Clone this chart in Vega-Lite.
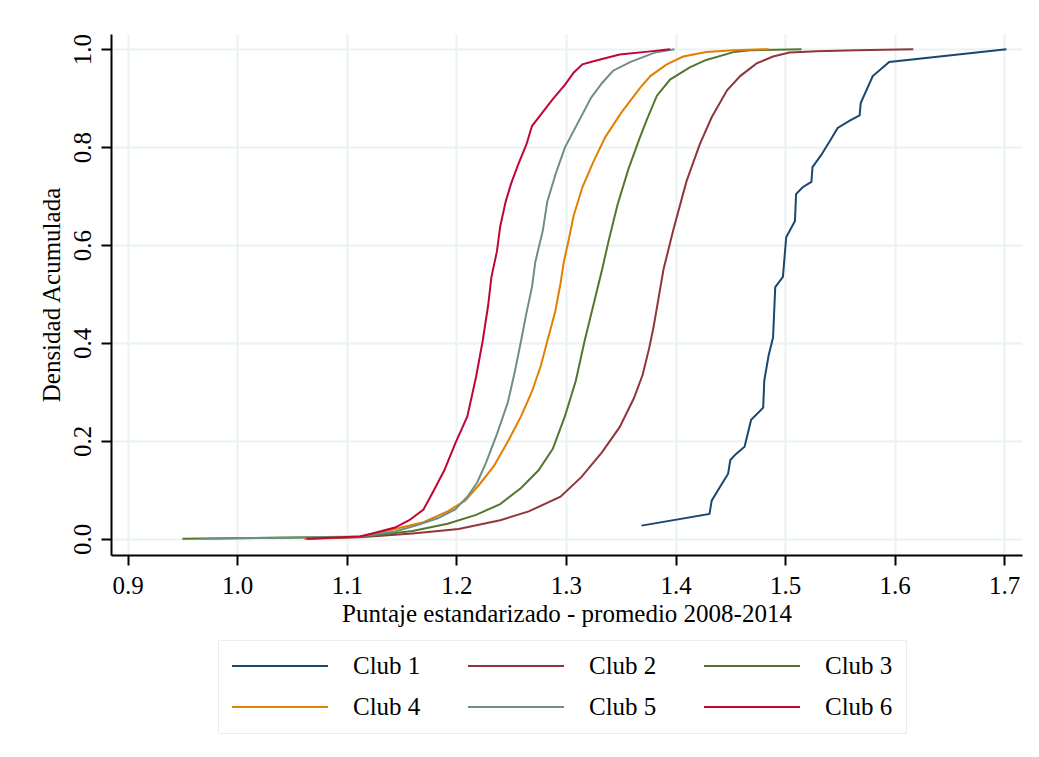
{
  "$schema": "https://vega.github.io/schema/vega-lite/v6.json",
  "width": 911,
  "height": 521,
  "autosize": {"type": "none"},
  "padding": {"left": 111, "top": 34, "right": 17, "bottom": 202},
  "background": "white",
  "data": {"values": [
    {"c":"Club 1","x":1.369,"y":0.027},{"c":"Club 1","x":1.431,"y":0.051},{"c":"Club 1","x":1.433,"y":0.078},{"c":"Club 1","x":1.440,"y":0.104},{"c":"Club 1","x":1.448,"y":0.133},{"c":"Club 1","x":1.450,"y":0.161},{"c":"Club 1","x":1.455,"y":0.173},{"c":"Club 1","x":1.463,"y":0.188},{"c":"Club 1","x":1.469,"y":0.243},{"c":"Club 1","x":1.480,"y":0.268},{"c":"Club 1","x":1.481,"y":0.323},{"c":"Club 1","x":1.485,"y":0.375},{"c":"Club 1","x":1.489,"y":0.411},{"c":"Club 1","x":1.491,"y":0.514},{"c":"Club 1","x":1.498,"y":0.535},{"c":"Club 1","x":1.501,"y":0.616},{"c":"Club 1","x":1.509,"y":0.649},{"c":"Club 1","x":1.510,"y":0.704},{"c":"Club 1","x":1.516,"y":0.718},{"c":"Club 1","x":1.524,"y":0.729},{"c":"Club 1","x":1.525,"y":0.759},{"c":"Club 1","x":1.533,"y":0.784},{"c":"Club 1","x":1.541,"y":0.813},{"c":"Club 1","x":1.548,"y":0.839},{"c":"Club 1","x":1.559,"y":0.854},{"c":"Club 1","x":1.568,"y":0.865},{"c":"Club 1","x":1.569,"y":0.890},{"c":"Club 1","x":1.580,"y":0.945},{"c":"Club 1","x":1.595,"y":0.974},{"c":"Club 1","x":1.702,"y":1.0},
    {"c":"Club 2","x":1.065,"y":0},{"c":"Club 2","x":1.112,"y":0.003},{"c":"Club 2","x":1.160,"y":0.011},{"c":"Club 2","x":1.202,"y":0.020},{"c":"Club 2","x":1.240,"y":0.038},{"c":"Club 2","x":1.266,"y":0.056},{"c":"Club 2","x":1.295,"y":0.086},{"c":"Club 2","x":1.314,"y":0.126},{"c":"Club 2","x":1.333,"y":0.177},{"c":"Club 2","x":1.349,"y":0.228},{"c":"Club 2","x":1.362,"y":0.287},{"c":"Club 2","x":1.370,"y":0.335},{"c":"Club 2","x":1.376,"y":0.390},{"c":"Club 2","x":1.380,"y":0.433},{"c":"Club 2","x":1.389,"y":0.550},{"c":"Club 2","x":1.398,"y":0.631},{"c":"Club 2","x":1.410,"y":0.730},{"c":"Club 2","x":1.422,"y":0.805},{"c":"Club 2","x":1.433,"y":0.861},{"c":"Club 2","x":1.447,"y":0.916},{"c":"Club 2","x":1.459,"y":0.945},{"c":"Club 2","x":1.474,"y":0.971},{"c":"Club 2","x":1.489,"y":0.985},{"c":"Club 2","x":1.504,"y":0.993},{"c":"Club 2","x":1.529,"y":0.996},{"c":"Club 2","x":1.565,"y":0.998},{"c":"Club 2","x":1.617,"y":1.0},
    {"c":"Club 3","x":0.950,"y":0},{"c":"Club 3","x":1.112,"y":0.004},{"c":"Club 3","x":1.160,"y":0.016},{"c":"Club 3","x":1.192,"y":0.031},{"c":"Club 3","x":1.218,"y":0.049},{"c":"Club 3","x":1.240,"y":0.071},{"c":"Club 3","x":1.259,"y":0.104},{"c":"Club 3","x":1.275,"y":0.140},{"c":"Club 3","x":1.288,"y":0.184},{"c":"Club 3","x":1.299,"y":0.250},{"c":"Club 3","x":1.309,"y":0.323},{"c":"Club 3","x":1.317,"y":0.404},{"c":"Club 3","x":1.325,"y":0.477},{"c":"Club 3","x":1.333,"y":0.550},{"c":"Club 3","x":1.339,"y":0.609},{"c":"Club 3","x":1.347,"y":0.682},{"c":"Club 3","x":1.357,"y":0.755},{"c":"Club 3","x":1.367,"y":0.817},{"c":"Club 3","x":1.374,"y":0.857},{"c":"Club 3","x":1.383,"y":0.905},{"c":"Club 3","x":1.395,"y":0.938},{"c":"Club 3","x":1.413,"y":0.963},{"c":"Club 3","x":1.428,"y":0.978},{"c":"Club 3","x":1.453,"y":0.994},{"c":"Club 3","x":1.468,"y":0.998},{"c":"Club 3","x":1.515,"y":1.0},
    {"c":"Club 4","x":1.061,"y":0},{"c":"Club 4","x":1.112,"y":0.005},{"c":"Club 4","x":1.144,"y":0.020},{"c":"Club 4","x":1.170,"y":0.034},{"c":"Club 4","x":1.192,"y":0.056},{"c":"Club 4","x":1.208,"y":0.078},{"c":"Club 4","x":1.221,"y":0.111},{"c":"Club 4","x":1.234,"y":0.148},{"c":"Club 4","x":1.247,"y":0.199},{"c":"Club 4","x":1.259,"y":0.250},{"c":"Club 4","x":1.269,"y":0.301},{"c":"Club 4","x":1.277,"y":0.353},{"c":"Club 4","x":1.283,"y":0.404},{"c":"Club 4","x":1.290,"y":0.462},{"c":"Club 4","x":1.295,"y":0.521},{"c":"Club 4","x":1.298,"y":0.565},{"c":"Club 4","x":1.303,"y":0.616},{"c":"Club 4","x":1.307,"y":0.660},{"c":"Club 4","x":1.315,"y":0.718},{"c":"Club 4","x":1.325,"y":0.770},{"c":"Club 4","x":1.336,"y":0.821},{"c":"Club 4","x":1.351,"y":0.872},{"c":"Club 4","x":1.368,"y":0.922},{"c":"Club 4","x":1.377,"y":0.945},{"c":"Club 4","x":1.392,"y":0.969},{"c":"Club 4","x":1.407,"y":0.985},{"c":"Club 4","x":1.428,"y":0.994},{"c":"Club 4","x":1.453,"y":0.998},{"c":"Club 4","x":1.485,"y":1.0},
    {"c":"Club 5","x":0.967,"y":0},{"c":"Club 5","x":1.112,"y":0.005},{"c":"Club 5","x":1.144,"y":0.015},{"c":"Club 5","x":1.163,"y":0.027},{"c":"Club 5","x":1.183,"y":0.042},{"c":"Club 5","x":1.199,"y":0.060},{"c":"Club 5","x":1.210,"y":0.086},{"c":"Club 5","x":1.219,"y":0.115},{"c":"Club 5","x":1.227,"y":0.155},{"c":"Club 5","x":1.237,"y":0.214},{"c":"Club 5","x":1.247,"y":0.279},{"c":"Club 5","x":1.253,"y":0.338},{"c":"Club 5","x":1.259,"y":0.404},{"c":"Club 5","x":1.264,"y":0.462},{"c":"Club 5","x":1.269,"y":0.514},{"c":"Club 5","x":1.272,"y":0.565},{"c":"Club 5","x":1.279,"y":0.631},{"c":"Club 5","x":1.283,"y":0.689},{"c":"Club 5","x":1.291,"y":0.748},{"c":"Club 5","x":1.299,"y":0.799},{"c":"Club 5","x":1.311,"y":0.850},{"c":"Club 5","x":1.323,"y":0.901},{"c":"Club 5","x":1.333,"y":0.931},{"c":"Club 5","x":1.343,"y":0.956},{"c":"Club 5","x":1.359,"y":0.974},{"c":"Club 5","x":1.381,"y":0.993},{"c":"Club 5","x":1.399,"y":1.0},
    {"c":"Club 6","x":1.063,"y":0},{"c":"Club 6","x":1.112,"y":0.005},{"c":"Club 6","x":1.125,"y":0.012},{"c":"Club 6","x":1.144,"y":0.023},{"c":"Club 6","x":1.157,"y":0.038},{"c":"Club 6","x":1.170,"y":0.060},{"c":"Club 6","x":1.179,"y":0.097},{"c":"Club 6","x":1.189,"y":0.140},{"c":"Club 6","x":1.199,"y":0.195},{"c":"Club 6","x":1.210,"y":0.250},{"c":"Club 6","x":1.218,"y":0.331},{"c":"Club 6","x":1.224,"y":0.404},{"c":"Club 6","x":1.229,"y":0.477},{"c":"Club 6","x":1.232,"y":0.535},{"c":"Club 6","x":1.237,"y":0.587},{"c":"Club 6","x":1.240,"y":0.638},{"c":"Club 6","x":1.245,"y":0.689},{"c":"Club 6","x":1.250,"y":0.726},{"c":"Club 6","x":1.256,"y":0.762},{"c":"Club 6","x":1.264,"y":0.806},{"c":"Club 6","x":1.269,"y":0.843},{"c":"Club 6","x":1.279,"y":0.872},{"c":"Club 6","x":1.288,"y":0.898},{"c":"Club 6","x":1.299,"y":0.927},{"c":"Club 6","x":1.307,"y":0.952},{"c":"Club 6","x":1.315,"y":0.969},{"c":"Club 6","x":1.326,"y":0.976},{"c":"Club 6","x":1.349,"y":0.989},{"c":"Club 6","x":1.375,"y":0.995},{"c":"Club 6","x":1.395,"y":1.0}
  ]},
  "mark": {"type": "line", "strokeWidth": 2, "interpolate": "linear"},
  "encoding": {
    "x": {
      "field": "x", "type": "quantitative",
      "scale": {"domain": [0.8848, 1.7162], "nice": false, "zero": false},
      "axis": {"values": [0.9,1.0,1.1,1.2,1.3,1.4,1.5,1.6,1.7], "format": ".1f", "title": "Puntaje estandarizado - promedio 2008-2014", "labelPadding": 8, "titlePadding": 3}
    },
    "y": {
      "field": "y", "type": "quantitative",
      "scale": {"domain": [-0.033, 1.031], "nice": false, "zero": false},
      "axis": {"values": [0,0.2,0.4,0.6,0.8,1.0], "format": ".1f", "title": "Densidad Acumulada", "labelAngle": -90, "labelAlign": "center", "labelBaseline": "bottom", "labelPadding": 6, "titlePadding": 6}
    },
    "color": {
      "field": "c", "type": "nominal",
      "scale": {"domain": ["Club 1","Club 2","Club 3","Club 4","Club 5","Club 6"], "range": ["#1a476f","#90353b","#55752f","#e37e00","#6e8e84","#c10534"]},
      "legend": {
        "title": null, "orient": "none", "legendX": 107, "legendY": 606,
        "columns": 3, "direction": "horizontal",
        "symbolType": "M-1,0H7", "symbolSize": 576, "symbolStrokeWidth": 2,
        "labelOffset": 96, "columnPadding": 43, "rowPadding": 15, "padding": 13,
        "labelFont": "Liberation Serif", "labelFontSize": 25, "labelColor": "black",
        "strokeColor": "#e6eef0", "fillColor": "white"
      }
    }
  },
  "config": {
    "view": {"stroke": null},
    "font": "Liberation Serif",
    "axis": {
      "labelFont": "Liberation Serif", "labelFontSize": 25, "labelColor": "black",
      "titleFont": "Liberation Serif", "titleFontSize": 25, "titleFontWeight": "normal", "titleColor": "black",
      "domainColor": "black", "domainWidth": 2, "tickColor": "black", "tickWidth": 2, "tickSize": 10,
      "gridColor": "#eaf2f3", "gridWidth": 2, "gridOpacity": 1
    }
  }
}
